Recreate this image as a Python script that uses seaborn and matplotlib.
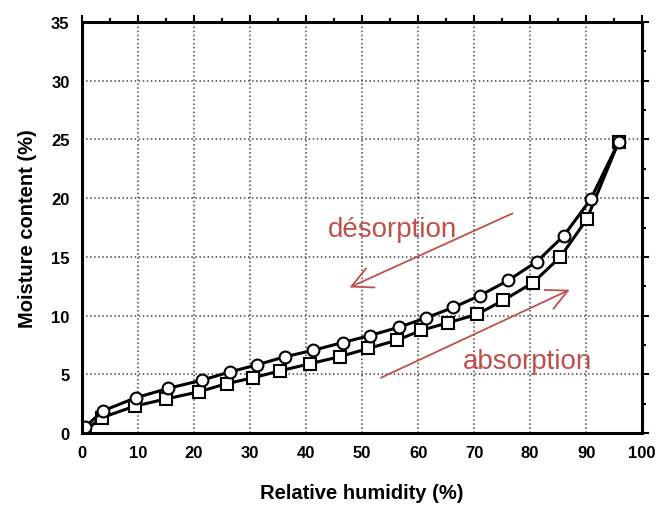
import pandas as pd
import matplotlib.pyplot as plt
import seaborn as sns

# Desorption branch (open circles)
des_rh = [0.5, 3.8, 9.6, 15.4, 21.4, 26.4, 31.2, 36.3, 41.3, 46.5, 51.4, 56.5, 61.4, 66.3, 71.0, 76.1, 81.2, 86.0, 90.8, 95.8]
des_mc = [0.5, 1.9, 3.0, 3.8, 4.5, 5.2, 5.8, 6.5, 7.05, 7.7, 8.3, 9.0, 9.8, 10.7, 11.7, 13.0, 14.6, 16.8, 19.9, 24.8]

# Absorption branch (open squares)
abs_rh = [0.5, 3.5, 9.5, 15.0, 20.8, 25.8, 30.5, 35.4, 40.7, 46.0, 51.1, 56.2, 60.6, 65.4, 70.5, 75.2, 80.5, 85.4, 90.1, 95.8]
abs_mc = [0.2, 1.3, 2.3, 2.9, 3.5, 4.2, 4.7, 5.3, 5.9, 6.5, 7.2, 7.9, 8.75, 9.4, 10.1, 11.3, 12.8, 15.0, 18.2, 24.8]

# absorption first so the shared end point shows the circle on top
df = pd.concat([
    pd.DataFrame({'rh': abs_rh, 'mc': abs_mc, 'branch': 'absorption'}),
    pd.DataFrame({'rh': des_rh, 'mc': des_mc, 'branch': 'desorption'}),
])

sns.set_style('white', {'text.color': 'black', 'axes.labelcolor': 'black',
                        'xtick.color': 'black', 'ytick.color': 'black'})
plt.rcParams['font.family'] = ['Liberation Sans', 'DejaVu Sans']

fig = plt.figure(figsize=(6.56, 5.06), dpi=100)
ax = fig.add_axes([0.125, 0.1423, 0.854, 0.8122])

sns.lineplot(data=df, x='rh', y='mc', style='branch',
             markers={'desorption': 'o', 'absorption': 's'}, dashes=False,
             color='black', linewidth=2.2, markersize=8.5, markerfacecolor='white',
             markeredgecolor='black', markeredgewidth=1.5, legend=False, sort=False, ax=ax)

ax.set_xlim(0, 100)
ax.set_ylim(0, 35)
ax.set_xticks(range(0, 101, 10))
ax.set_yticks(range(0, 36, 5))
ax.set_xticks(range(0, 101, 5), minor=True)
ax.set_yticks([v / 2 for v in range(0, 71, 5)], minor=True)
ax.grid(True, which='major', linestyle=':', color='#444444', linewidth=1.1)
for s in ax.spines.values():
    s.set_color('black')
    s.set_linewidth(2.2)
ax.tick_params(which='both', direction='out', top=True, right=True, width=1.5, color='black')
ax.tick_params(which='major', length=5, labelsize=12, pad=4, labelcolor='black')
ax.tick_params(which='minor', length=3)
for lab in ax.get_xticklabels() + ax.get_yticklabels():
    lab.set_fontweight('bold')

ax.set_xlabel('Relative humidity (%)', fontsize=14.5, fontweight='bold', labelpad=16, color='black')
ax.set_ylabel('Moisture content (%)', fontsize=14.5, fontweight='bold', labelpad=10, color='black')

red = '#c0504d'
ax.text(55.5, 17.4, 'désorption', color=red, fontsize=20, ha='center', va='center')
ax.text(79.5, 6.1, 'absorption', color=red, fontsize=20, ha='center', va='center')
ax.annotate('', xy=(47.3, 12.3), xytext=(77.3, 18.8),
            arrowprops=dict(arrowstyle='->,head_length=0.6,head_width=0.3', color=red, lw=1.3, mutation_scale=25))
ax.annotate('', xy=(87.5, 12.3), xytext=(52.9, 4.6),
            arrowprops=dict(arrowstyle='->,head_length=0.6,head_width=0.3', color=red, lw=1.3, mutation_scale=25))

plt.savefig('out.png', dpi=100)
